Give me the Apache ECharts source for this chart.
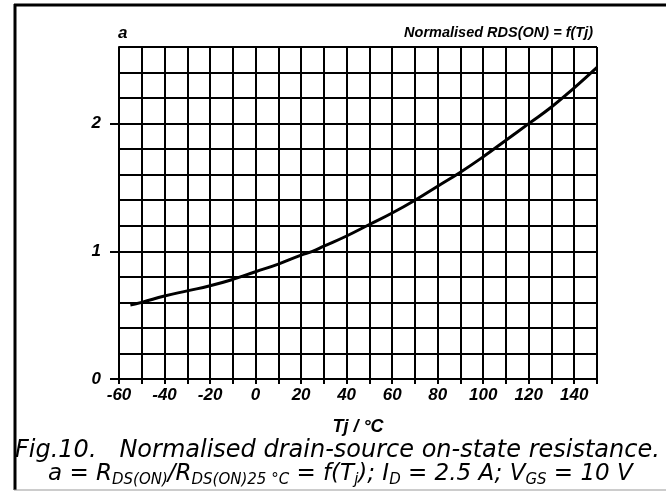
<!DOCTYPE html>
<html>
<head>
<meta charset="utf-8">
<script src="https://cdn.jsdelivr.net/npm/echarts@6/dist/echarts.min.js"></script>
<style>
  html, body { margin: 0; padding: 0; background: #fff; }
  #main { width: 666px; height: 495px; }
</style>
</head>
<body>
<div id="main"></div>
<script>
// junction temperature (°C) and normalised on-resistance
const temps = [-55, -50, -40, -30, -20, -10, 0, 10, 20, 25, 30, 40, 50, 60, 70, 80, 90, 100, 110, 120, 130, 140, 150]
const ratio = [0.58, 0.60, 0.65, 0.69, 0.73, 0.78, 0.84, 0.90, 0.97, 1.00, 1.04, 1.12, 1.21, 1.30, 1.40, 1.51, 1.62, 1.74, 1.87, 2.00, 2.13, 2.28, 2.44]
const xLabels = [-60, -40, -20, 0, 20, 40, 60, 80, 100, 120, 140]
const yLabels = [0, 1, 2]

const sans = '"Liberation Sans", Arial, sans-serif'
const tickFont = { fontFamily: sans, fontStyle: 'italic', fontWeight: 'bold', fontSize: 17, color: '#000' }
const black = { color: '#000', width: 2 }

var myChart = echarts.init(document.getElementById('main'))

var option = {
  animation: false,
  backgroundColor: '#fff',
  grid: { left: 119, right: 69, top: 47, bottom: 116 },
  title: [
    {
      text: 'a',
      left: 118, top: 25, padding: 0,
      textStyle: tickFont
    },
    {
      text: 'Normalised RDS(ON) = f(Tj)',
      right: 73, top: 25, padding: 0,
      textStyle: { fontFamily: sans, fontStyle: 'italic', fontWeight: 'bold', fontSize: 14.5, color: '#000' }
    },
    {
      text: 'Fig.10.   Normalised drain-source on-state resistance.',
      left: 15, top: 439, padding: 0,
      textStyle: { fontFamily: '"DejaVu Sans", sans-serif', fontStyle: 'italic', fontWeight: 'normal', fontSize: 24, color: '#000' }
    },
    {
      text: 'a = R{s|DS(ON)}/R{s|DS(ON)25 °C} = f(T{s|j}); I{s|D} = 2.5 A; V{s|GS} = 10 V',
      left: 48, top: 461, padding: 0,
      textStyle: {
        fontFamily: '"DejaVu Sans", sans-serif', fontStyle: 'italic', fontWeight: 'normal', fontSize: 23, color: '#000',
        rich: {
          s: { fontFamily: '"DejaVu Sans", sans-serif', fontStyle: 'italic', fontSize: 15, color: '#000', padding: [12, 0, 0, 0] }
        }
      }
    }
  ],
  xAxis: {
    type: 'value',
    min: -60, max: 150, interval: 10,
    name: 'Tj / °C',
    nameLocation: 'middle',
    nameGap: 39,
    nameTextStyle: Object.assign({}, tickFont, { fontSize: 18 }),
    axisLine: { onZero: false, lineStyle: black },
    axisTick: { show: true, length: 5, lineStyle: black },
    axisLabel: Object.assign({ customValues: xLabels, margin: 8 }, tickFont),
    splitLine: { show: true, lineStyle: black }
  },
  yAxis: [
    {
      // grid lines every 0.2
      type: 'value',
      min: 0, max: 2.6, interval: 0.2,
      axisLine: { show: true, onZero: false, lineStyle: black },
      axisTick: { show: false },
      axisLabel: { show: false },
      splitLine: { show: true, lineStyle: black }
    },
    {
      // labelled ticks at 0, 1, 2
      type: 'value',
      position: 'left',
      min: 0, max: 2.6, interval: 0.2,
      axisLine: { show: false, onZero: false },
      axisTick: { show: true, customValues: yLabels, length: 9, lineStyle: black },
      axisLabel: Object.assign({ customValues: yLabels, margin: 18 }, tickFont),
      splitLine: { show: false }
    }
  ],
  series: [{
    type: 'line',
    data: temps.map((t, i) => [t, ratio[i]]),
    smooth: true,
    showSymbol: false,
    lineStyle: { color: '#000', width: 3 },
    z: 5
  }],
  graphic: [
    // outer figure frame
    { type: 'line', shape: { x1: 14, y1: 5, x2: 666, y2: 5 }, style: { stroke: '#000', lineWidth: 3 } },
    { type: 'line', shape: { x1: 15, y1: 4, x2: 15, y2: 490 }, style: { stroke: '#000', lineWidth: 3 } },
    { type: 'line', shape: { x1: 14, y1: 490, x2: 666, y2: 490 }, style: { stroke: '#999', lineWidth: 1 } }
  ]
}

myChart.setOption(option)
</script>
</body>
</html>
